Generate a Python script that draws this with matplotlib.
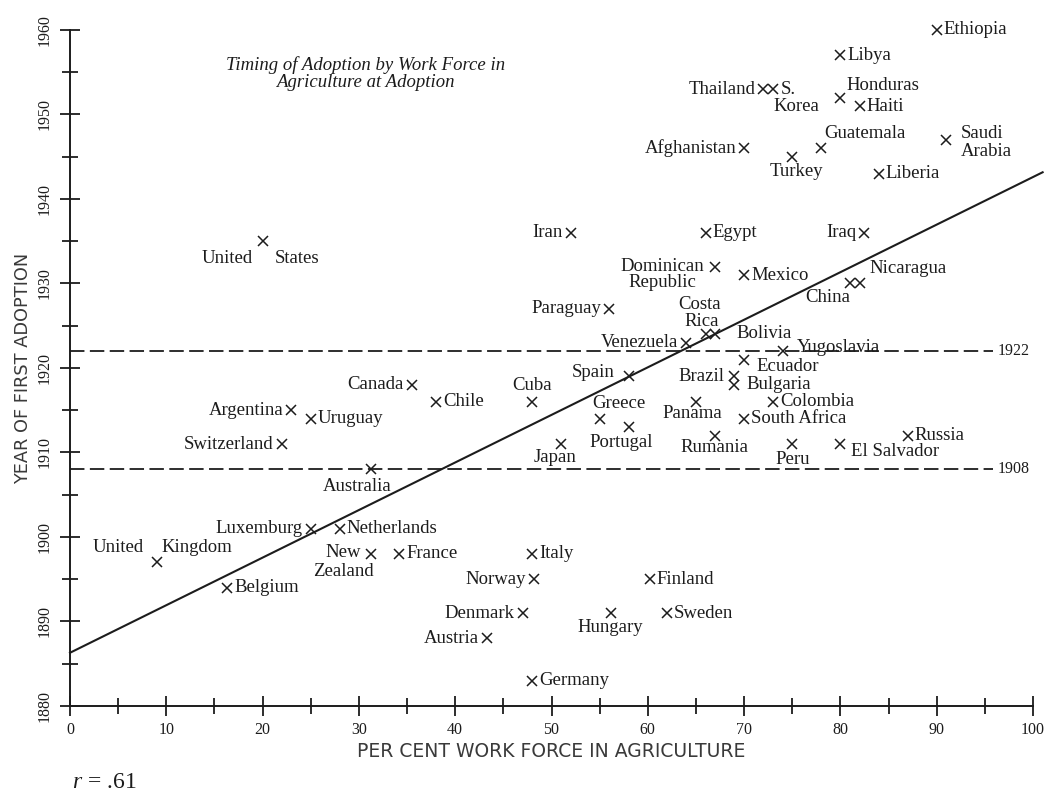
# -*- coding: utf-8 -*-

# Timing of adoption vs. work force in agriculture (scatter with fit line)

import numpy as np
import matplotlib
matplotlib.use("Agg")
import matplotlib.pyplot as plt
from matplotlib.ticker import MultipleLocator

countries = ["Ethiopia", "Libya", "Thailand", "S. Korea", "Honduras", "Haiti",
             "Afghanistan", "Turkey", "Guatemala", "Saudi Arabia", "Liberia",
             "Iran", "Egypt", "Iraq", "United States", "Dominican Republic",
             "Mexico", "China", "Nicaragua", "Paraguay", "Costa Rica", "Bolivia",
             "Venezuela", "Yugoslavia", "Ecuador", "Spain", "Brazil", "Bulgaria",
             "Canada", "Chile", "Cuba", "Colombia", "Panama", "Argentina",
             "Uruguay", "Greece", "South Africa", "Portugal", "Russia", "Rumania",
             "Switzerland", "Japan", "Peru", "El Salvador", "Australia",
             "Luxemburg", "Netherlands", "United Kingdom", "New Zealand", "France",
             "Italy", "Belgium", "Norway", "Finland", "Denmark", "Hungary",
             "Sweden", "Austria", "Germany"]
agri_pct = [90, 80, 72, 73, 80, 82,
            70, 75, 78, 91, 84,
            52, 66, 82.5, 20, 67,
            70, 81, 82, 56, 66, 67,
            64, 74, 70, 58, 69, 69,
            35.5, 38, 48, 73, 65, 23,
            25, 55, 70, 58, 87, 67,
            22, 51, 75, 80, 31.3,
            25, 28, 9, 31.3, 34.2,
            48, 16.3, 48.2, 60.2, 47, 56.2,
            62, 43.3, 48]
year = [1960, 1957, 1953, 1953, 1952, 1951,
        1946, 1945, 1946, 1947, 1943,
        1936, 1936, 1936, 1935, 1932,
        1931, 1930, 1930, 1927, 1924, 1924,
        1923, 1922, 1921, 1919, 1919, 1918,
        1918, 1916, 1916, 1916, 1916, 1915,
        1914, 1914, 1914, 1913, 1912, 1912,
        1911, 1911, 1911, 1911, 1908,
        1901, 1901, 1897, 1898, 1898,
        1898, 1894, 1895, 1895, 1891, 1891,
        1891, 1888, 1883]

fit_intercept = 1886.3
fit_slope = 0.563
cut_years = [1922, 1908]
r_value = ".61"

# label placement: (text, dx px, dy px, ha); default is name to the right
LEFT = "left"
place = {
    "Thailand": [("Thailand", -8, 0, "right")],
    "S. Korea": [("S.", 8, 0, "left"), ("Korea", 0, -17, "left")],
    "Honduras": [("Honduras", 42, 12, "center")],
    "Afghanistan": [("Afghanistan", -8, 0, "right")],
    "Guatemala": [("Guatemala", 44, 15, "center")],
    "Turkey": [("Turkey", 4, -15, "center")],
    "Saudi Arabia": [("Saudi", 14, 6, "left"), ("Arabia", 14, -12, "left")],
    "Iran": [("Iran", -8, 0, "right")],
    "Iraq": [("Iraq", -8, 0, "right")],
    "United States": [("United", -10, -17, "right"), ("States", 12, -17, "left")],
    "Dominican Republic": [("Dominican", -11, 0, "right"), ("Republic", -53, -16, "center")],
    "China": [("China", -22, -14, "center")],
    "Nicaragua": [("Nicaragua", 10, 15, "left")],
    "Paraguay": [("Paraguay", -8, 0, "right")],
    "Costa Rica": [("Costa", -6, 30, "center"), ("Rica", -4, 13, "center")],
    "Bolivia": [("Bolivia", 21, 1, "left")],
    "Venezuela": [("Venezuela", -8, 0, "right")],
    "Yugoslavia": [("Yugoslavia", 14, 4, "left")],
    "Ecuador": [("Ecuador", 12, -7, "left")],
    "Spain": [("Spain", -14, 4, "right")],
    "Brazil": [("Brazil", -10, 0, "right")],
    "Bulgaria": [("Bulgaria", 12, 0, "left")],
    "Canada": [("Canada", -8, 0, "right")],
    "Cuba": [("Cuba", 0, 16, "center")],
    "Greece": [("Greece", 19, 15, "center")],
    "Portugal": [("Portugal", -7, -15, "center")],
    "Japan": [("Japan", -6, -13, "center")],
    "Panama": [("Panama", -4, -12, "center")],
    "Rumania": [("Rumania", -1, -12, "center")],
    "Peru": [("Peru", 0, -15, "center")],
    "El Salvador": [("El Salvador", 11, -7, "left")],
    "Argentina": [("Argentina", -8, 0, "right")],
    "Switzerland": [("Switzerland", -8, 0, "right")],
    "Australia": [("Australia", -14, -17, "center")],
    "Luxemburg": [("Luxemburg", -8, 0, "right")],
    "United Kingdom": [("United", -13, 15, "right"), ("Kingdom", 5, 15, "left")],
    "New Zealand": [("New", -10, 1, "right"), ("Zealand", -28, -18, "center")],
    "Norway": [("Norway", -8, 0, "right")],
    "Denmark": [("Denmark", -8, 0, "right")],
    "Hungary": [("Hungary", -1, -14, "center")],
    "Austria": [("Austria", -8, 0, "right")],
}

INK = "#1c1c1c"
SERIF = ["Liberation Serif", "DejaVu Serif"]
PX = 0.72  # px -> points at dpi 100

plt.rcParams["mathtext.fontset"] = "custom"
plt.rcParams["mathtext.rm"] = "Liberation Serif"
plt.rcParams["mathtext.it"] = "Liberation Serif:italic"

fig = plt.figure(figsize=(10.48, 7.91), dpi=100)
fig.patch.set_facecolor("white")
ax = fig.add_axes([70 / 1048, 85 / 791, 963 / 1048, 676 / 791])

ax.set_xlim(0, 100)
ax.set_ylim(1880, 1960)
for s in ["top", "right"]:
    ax.spines[s].set_visible(False)
for s in ["left", "bottom"]:
    ax.spines[s].set_linewidth(1.4)
    ax.spines[s].set_color(INK)

ax.xaxis.set_major_locator(MultipleLocator(10))
ax.xaxis.set_minor_locator(MultipleLocator(5))
ax.yaxis.set_major_locator(MultipleLocator(10))
ax.yaxis.set_minor_locator(MultipleLocator(5))
ax.tick_params(which="major", direction="inout", length=15, width=1.3, color=INK)
ax.tick_params(which="minor", direction="inout", length=11, width=1.3, color=INK)
ax.tick_params(axis="x", which="major", pad=4, labelsize=11.5, labelcolor=INK)
ax.tick_params(axis="y", which="major", pad=5, labelsize=11.5, labelcolor=INK)
for lab in ax.get_xticklabels() + ax.get_yticklabels():
    lab.set_family(SERIF)
for lab in ax.get_yticklabels():
    lab.set_rotation(90)
    lab.set_va("center")

ax.set_xlabel("PER CENT WORK FORCE IN AGRICULTURE", fontsize=13.5,
              family="DejaVu Sans", color="#3a3a3a", labelpad=3)
ax.set_ylabel("YEAR OF FIRST ADOPTION", fontsize=12.8,
              family="DejaVu Sans", color="#3a3a3a", labelpad=3)

# regression line
xs = np.array([0, 101])
ax.plot(xs, fit_intercept + fit_slope * xs, color=INK, lw=1.5, clip_on=False)

# dashed cut-off lines
for yc in cut_years:
    ax.plot([0, 95.8], [yc, yc], color=INK, lw=1.3, ls=(0, (8, 3)))
    ax.text(96.3, yc, str(yc), fontsize=11.5, family=SERIF, color=INK,
            ha="left", va="center")

ax.plot(agri_pct, year, ls="none", marker="x", ms=7, mew=1.1, color=INK,
        clip_on=False)

for name, xv, yv in zip(countries, agri_pct, year):
    for txt, dx, dy, ha in place.get(name, [(name, 7, 0, LEFT)]):
        ax.annotate(txt, (xv, yv), xytext=(dx * PX, dy * PX),
                    textcoords="offset points", ha=ha, va="center",
                    fontsize=13.5, family=SERIF, color=INK)

ax.text(30.7, 1954.8, "Timing of Adoption by Work Force in\nAgriculture at Adoption",
        fontsize=13.5, family=SERIF, style="italic", color=INK,
        ha="center", va="center", linespacing=1.0)

fig.text(72 / 1048, 1 - 782 / 791, "$r$ = " + r_value, fontsize=17,
         family=SERIF, color=INK, ha="left", va="center")

fig.savefig("out.png", dpi=100, facecolor="white")
